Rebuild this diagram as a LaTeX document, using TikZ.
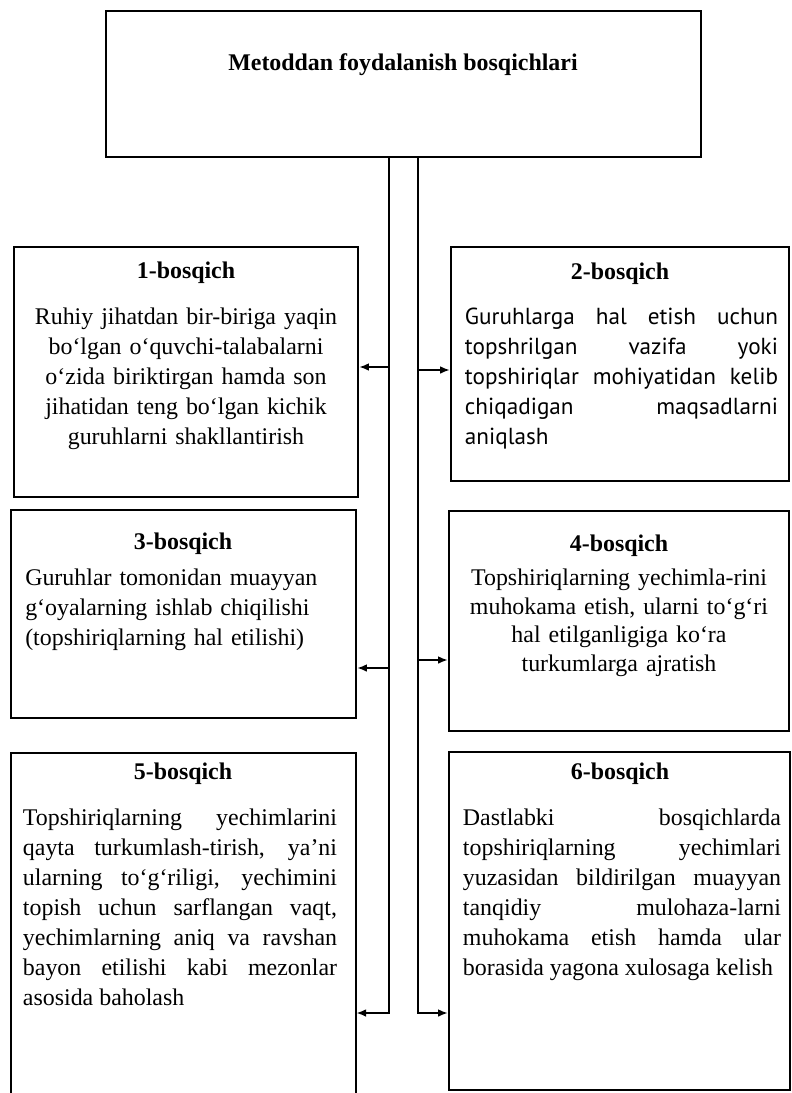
\documentclass[tikz,border=0pt]{standalone}
\usepackage{fontspec}
\setmainfont{Liberation Serif}
\newfontfamily\optsans{PT Sans}
\usetikzlibrary{arrows.meta,fit}
\hyphenpenalty=10000
\exhyphenpenalty=10000
\tolerance=10000
\begin{document}
\begin{tikzpicture}[x=0.025cm, y=-0.025cm,
    box/.style={draw, line width=1.5pt, inner sep=0pt},
    head/.style={font=\bfseries\fontsize{17}{21.34}\selectfont, inner sep=0pt},
    body/.style={font=\fontsize{17}{21.34}\selectfont, inner sep=0pt, anchor=north},
    link/.style={line width=1.4pt},
    arr/.style={link, -{Latex[length=7pt,width=5.5pt]}}]
  \useasboundingbox (0,0) rectangle (791,1093);

  % Top box
  \node[box, fit={(106,11) (701,157)}] (top) {};
  \node[head] (toptitle) at (403,65) {Metoddan foydalanish bosqichlari};

  % Stage boxes
  \node[box, fit={(14,247) (358,497)}] (b1) {};
  \node[box, fit={(451,247) (789,481)}] (b2) {};
  \node[box, fit={(11,510) (356,718)}] (b3) {};
  \node[box, fit={(449,511) (789,731)}] (b4) {};
  \node[inner sep=0pt, fit={(11,753) (356,1096)}] (b5) {};
  \draw[line width=1.5pt] (b5.south west) -- (b5.north west) -- (b5.north east) -- (b5.south east);
  \node[box, fit={(449,752) (790,1090)}] (b6) {};

  % Stage titles
  \node[head] (h1) at (186,273) {1-bosqich};
  \node[head] (h2) at (620,274) {2-bosqich};
  \node[head] (h3) at (183,544) {3-bosqich};
  \node[head] (h4) at (619,546) {4-bosqich};
  \node[head] (h5) at (183,774) {5-bosqich};
  \node[head] (h6) at (620,774) {6-bosqich};

  % Stage texts
  \node[body, text width=8.25cm, align=center] (t1) at (186,308) {Ruhiy jihatdan bir-biriga yaqin\\
    bo‘lgan o‘quvchi-talabalarni\\ o‘zida biriktirgan hamda son\\
    jihatidan teng bo‘lgan kichik\\ guruhlarni shakllantirish};
  \node[body, text width=7.825cm, align=justify, font=\optsans\fontsize{16.5}{21.34}\selectfont] (t2) at (621.5,308)
    {Guruhlarga hal etish uchun\linebreak topshrilgan vazifa yoki\linebreak
    topshiriqlar mohiyatidan kelib\linebreak chiqadigan maqsadlarni\linebreak aniqlash};
  \node[body, anchor=north west, text width=8cm, align=left] (t3) at (25,569) {Guruhlar tomonidan muayyan\\
    g‘oyalarning ishlab chiqilishi\\ (topshiriqlarning hal etilishi)};
  \node[body, text width=8.25cm, align=center, font=\fontsize{17}{20.3}\selectfont] (t4) at (619,569)
    {Topshiriqlarning yechimla-rini\\ muhokama etish, ularni to‘g‘ri\\
    hal etilganligiga ko‘ra\\ turkumlarga ajratish};
  \node[body, text width=7.85cm, align=justify] (t5) at (180,809)
    {Topshiriqlarning yechimlarini\linebreak qayta turkumlash-tirish, ya’ni\linebreak
    ularning to‘g‘riligi, yechimini\linebreak topish uchun sarflangan vaqt,\linebreak
    yechimlarning aniq va ravshan\linebreak bayon etilishi kabi mezonlar\linebreak
    asosida baholash};
  \node[body, text width=7.95cm, align=justify] (t6) at (622,809)
    {Dastlabki bosqichlarda\linebreak topshiriqlarning yechimlari\linebreak
    yuzasidan bildirilgan muayyan\linebreak tanqidiy mulohaza-larni\linebreak
    muhokama etish hamda ular\linebreak borasida yagona xulosaga kelish};

  % Connectors
  \coordinate (lk) at (389,1013);
  \coordinate (rk) at (418,1013);
  \draw[arr] (top.south -| lk) -- (lk) -- (lk -| b5.east);
  \draw[arr] (top.south -| rk) -- (rk) -- (rk -| b6.west);
  \foreach \n/\y in {1/367, 3/668} {
    \coordinate (s\n) at (389,\y);
    \draw[arr] (s\n) -- (s\n -| b\n.east);
  }
  \foreach \n/\y in {2/370, 4/660} {
    \coordinate (s\n) at (418,\y);
    \draw[arr] (s\n) -- (s\n -| b\n.west);
  }
\end{tikzpicture}
\end{document}
